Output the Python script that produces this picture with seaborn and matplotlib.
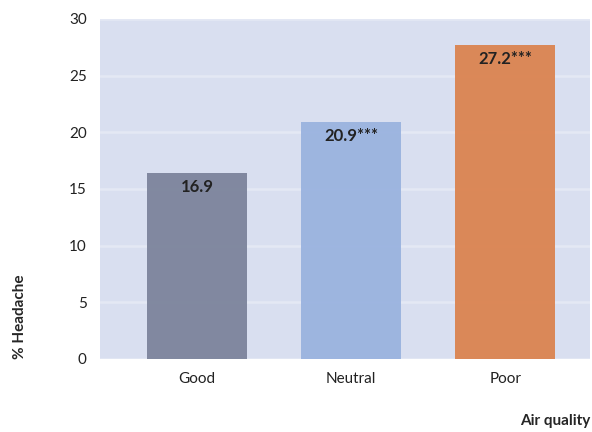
import matplotlib
matplotlib.use("Agg")
import matplotlib.pyplot as plt
import seaborn as sns
import pandas as pd

categories = ["Good", "Neutral", "Poor"]
values = [16.4, 20.9, 27.7]
labels = ["16.9", "20.9***", "27.2***"]
colors = ["#7c849c", "#9ab3df", "#db8350"]

sns.set_theme(style="darkgrid", rc={"axes.facecolor": "#d9dff0", "grid.color": "white", "grid.linewidth": 1.8})
plt.rcParams["font.family"] = ["Lato", "DejaVu Sans"]

fig = plt.figure(figsize=(5.92, 4.32), dpi=100)
ax = fig.add_axes([100/592, (432-359)/432, 490/592, 340/432])
df = pd.DataFrame({"cat": categories, "val": values})
sns.barplot(data=df, x="cat", y="val", hue="cat", palette=colors, width=0.65, saturation=1,
            alpha=0.95, linewidth=0, legend=False, ax=ax, zorder=3)
ax.set_axisbelow(False)
for l in ax.get_ygridlines():
    l.set_alpha(0.3)
ax.set_ylim(0, 30)
ax.set_xlim(-0.63, 2.55)
ax.set_yticks(range(0, 31, 5))
ax.grid(axis="x", visible=False)
for i, (v, t) in enumerate(zip(values, labels)):
    ax.text(i, v - 0.5, t, ha="center", va="top", fontsize=12, fontweight="bold", color="#222222", zorder=5)
ax.tick_params(labelsize=11, colors="#222222")
ax.set_xlabel("Air quality", fontsize=11, fontweight="bold", loc="right", labelpad=20)
ax.set_ylabel("% Headache", fontsize=11, fontweight="bold", loc="bottom")
ax.yaxis.set_label_coords(-0.15, 0)
for s in ax.spines.values():
    s.set_visible(False)
fig.savefig("out.png", dpi=100)
